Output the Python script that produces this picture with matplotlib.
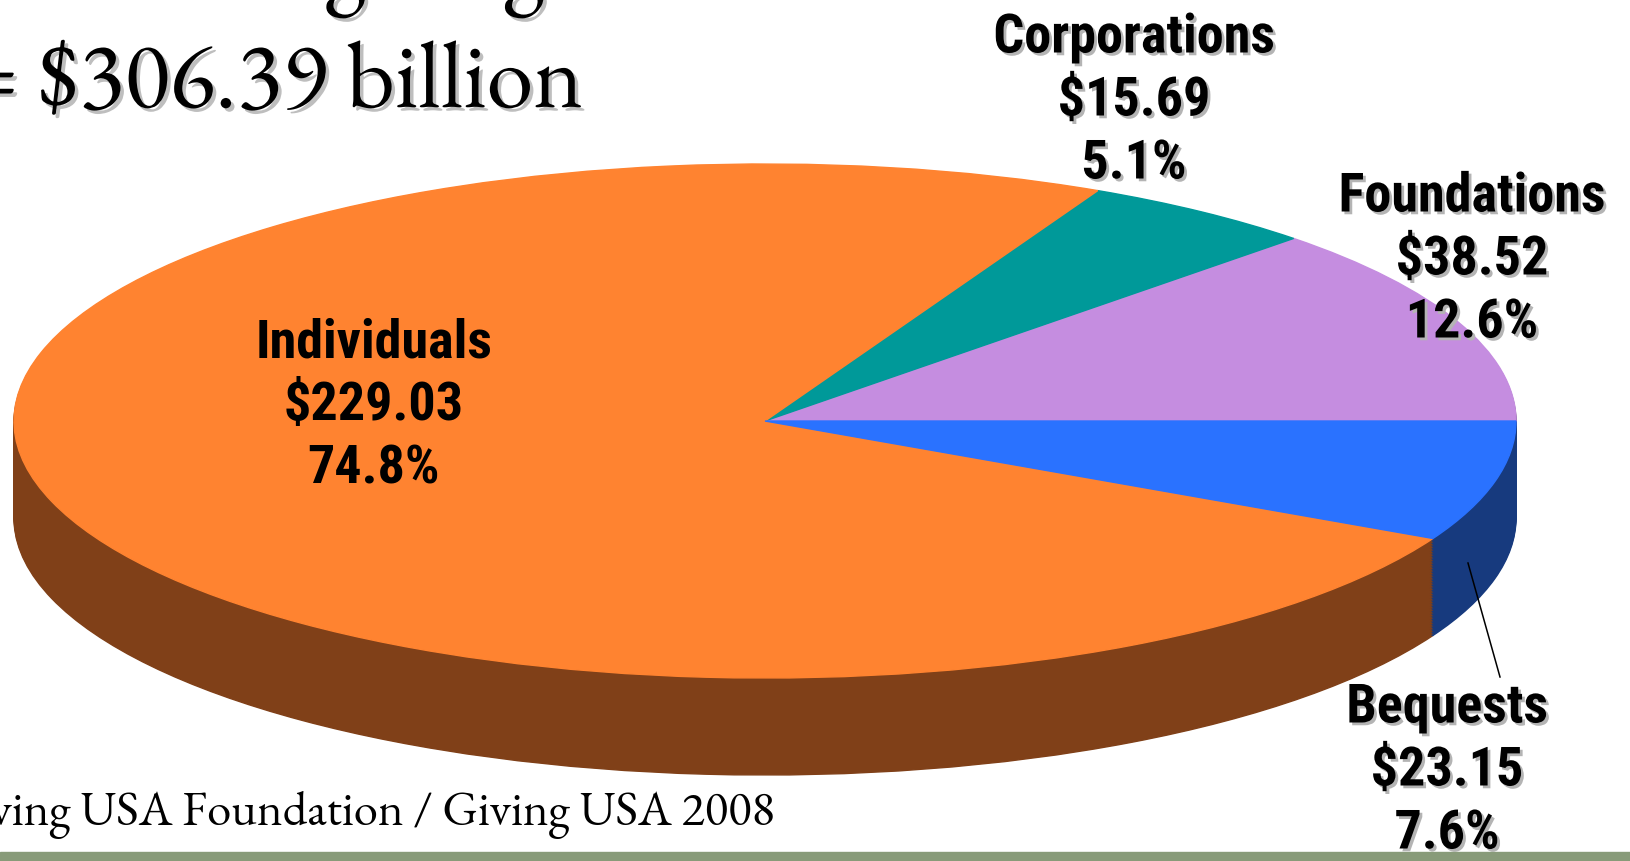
import numpy as np
import matplotlib
matplotlib.use('Agg')
import matplotlib.pyplot as plt
import matplotlib.patheffects as pe
from matplotlib.patches import Rectangle

W, H = 1631, 861

# giving by source, billions of $ (pie runs counter-clockwise from 3 o'clock)
sources = ['Foundations', 'Corporations', 'Individuals', 'Bequests']
amounts = [38.52, 15.69, 229.03, 23.15]
shares = ['12.6%', '5.1%', '74.8%', '7.6%']
total_line = '= $306.39 billion'
source_line = 'Source: Giving USA Foundation / Giving USA 2008'

top_colors = ['#C58DE0', '#009999', '#FF8330', '#2A72FF']
side_colors = ['#6A4A80', '#005555', '#804018', '#173A7E']

# where the labels sit (pixels, middle line)
label_pos = {'Foundations': (1472, 260), 'Corporations': (1134, 101),
             'Individuals': (374, 406), 'Bequests': (1447, 771)}

fig = plt.figure(figsize=(W / 100, H / 100), dpi=100)

# pie axes: unit circle maps onto the ellipse of the slide
cx, cy, rx, ry = 765, 421, 751, 257
depth = 97 / ry
pax = fig.add_axes([0, 0, 1, 1])
nlayers = 60
for k in range(nlayers, 0, -1):
    wedges, _ = pax.pie(amounts, colors=side_colors, startangle=0,
                        center=(0, -depth * k / nlayers), radius=1,
                        wedgeprops=dict(linewidth=1))
    for w in wedges:
        w.set_edgecolor(w.get_facecolor())
wedges, _ = pax.pie(amounts, colors=top_colors, startangle=0,
                    wedgeprops=dict(linewidth=1))
for w in wedges:
    w.set_edgecolor(w.get_facecolor())
pax.set_aspect('auto')
pax.set_xlim(-cx / rx, (W - cx) / rx)
pax.set_ylim((cy - H) / ry, cy / ry)
pax.axis('off')

# overlay in pixel coords for text
tax = fig.add_axes([0, 0, 1, 1], zorder=2)
tax.set_xlim(0, W)
tax.set_ylim(H, 0)
tax.axis('off')

shadow = [pe.withSimplePatchShadow(offset=(2, -2), shadow_rgbFace='#B4B4B4', alpha=1)]
title_shadow = [pe.withSimplePatchShadow(offset=(2.5, -2.5), shadow_rgbFace='#BEBEBE', alpha=1)]
label_font = ['Liberation Sans Narrow', 'Arial Narrow', 'Roboto Condensed',
              'Archivo Narrow', 'Asap Condensed', 'DejaVu Sans']
serif_font = ['EB Garamond', 'Liberation Serif', 'DejaVu Serif']

for name, amt, sh in zip(sources, amounts, shares):
    x, y = label_pos[name]
    tax.text(x, y, '%s\n$%.2f\n%s' % (name, amt, sh), ha='center', va='center',
             multialignment='center', fontsize=39, fontweight='bold',
             family=label_font, linespacing=1.3, zorder=5,
             path_effects=None if name == 'Individuals' else shadow)

tax.plot([1468, 1500], [563, 677], color='black', lw=1.1, zorder=5)

# title, cut by the slide edge
tax.text(545, -9, 'Total giving', ha='right', va='baseline', fontsize=68,
         family=serif_font, path_effects=title_shadow)
tax.text(583, 107, total_line, ha='right', va='baseline', fontsize=68,
         family=serif_font, path_effects=title_shadow)
tax.text(775, 825, source_line, ha='right', va='baseline', fontsize=35,
         family=serif_font)

tax.add_patch(Rectangle((0, 852), W, 12, color='#889B79', zorder=10))

plt.savefig('out.png', dpi=100)
